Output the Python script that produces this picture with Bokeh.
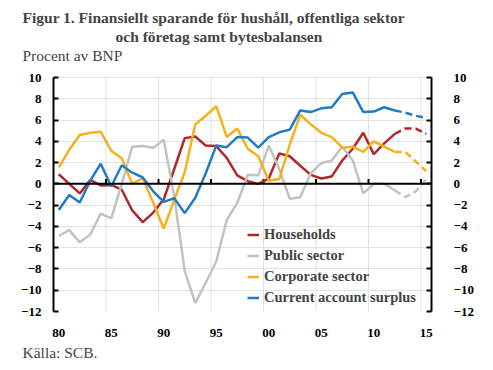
from bokeh.plotting import figure
from bokeh.models import (ColumnDataSource, Range1d, LinearAxis, FixedTicker, Title, Span,
                          Legend, LegendItem)
from bokeh.embed import file_html
from bokeh.resources import INLINE

years = list(range(1980, 2016))
households = [0.9, 0.0, -0.9, 0.35, -0.15, -0.1, -0.55, -2.5, -3.6, -2.7,
              -1.45, 1.4, 4.3, 4.45, 3.6, 3.55, 2.45, 0.8, 0.25, 0.0,
              0.5, 2.85, 2.6, 1.7, 0.85, 0.5, 0.7, 2.2, 3.3, 4.8,
              2.8, 3.8, 4.7, 5.2, 5.2, 4.7]
public = [-4.9, -4.35, -5.5, -4.75, -2.8, -3.25, 0.0, 3.5, 3.55, 3.4,
          4.15, -1.2, -8.2, -11.2, -9.3, -7.3, -3.4, -1.8, 0.85, 0.8,
          3.6, 1.4, -1.4, -1.25, 1.0, 1.95, 2.2, 3.5, 2.2, -0.9,
          0.0, 0.0, -0.6, -1.25, -0.7, 0.4]
corporate = [1.55, 3.2, 4.6, 4.8, 4.9, 3.1, 2.4, 0.0, 0.55, -1.8,
             -4.2, -1.5, 1.1, 5.6, 6.4, 7.3, 4.4, 5.2, 3.3, 2.6,
             0.3, 0.45, 3.7, 6.5, 5.6, 4.8, 4.4, 3.4, 3.5, 3.0,
             4.0, 3.5, 3.0, 3.0, 2.1, 1.2]
current_account = [-2.45, -1.05, -1.75, 0.3, 1.9, -0.25, 1.75, 1.05, 0.6, -0.7,
                   -1.7, -1.35, -2.75, -1.3, 1.0, 3.6, 3.45, 4.4, 4.35, 3.4,
                   4.4, 4.85, 5.1, 6.9, 6.75, 7.1, 7.2, 8.45, 8.6, 6.75,
                   6.8, 7.2, 6.9, 6.7, 6.4, 6.2]
forecast_start = 2012

series_names = ["Households", "Public sector", "Corporate sector", "Current account surplus"]
series_values = [households, public, corporate, current_account]
series_colors = ["#b0282a", "#c2c2c2", "#f5b11c", "#1f7bc4"]

tick_years = [1980, 1985, 1990, 1995, 2000, 2005, 2010, 2015]
tick_labels = ["80", "85", "90", "95", "00", "05", "10", "15"]
y_ticks = list(range(-12, 11, 2))
y_min, y_max = -12, 10

FONT = "Liberation Serif"

# the plotted area is 234 px high; 14 extra empty pixels sit above the top tick
plot_h = 234
pad_px = 14
top_pad = pad_px * (y_max - y_min) / plot_h

p = figure(width=493, height=370, frame_width=378, frame_height=plot_h + pad_px,
           x_range=Range1d(1979.5, 2015.5), y_range=Range1d(y_min, y_max + top_pad),
           output_backend="svg", toolbar_location=None,
           min_border_left=53, min_border_right=62, min_border_top=63, min_border_bottom=59)
p.outline_line_color = None
p.background_fill_color = "white"
p.border_fill_color = "white"

boundaries = [t - 0.5 for t in tick_years[1:]]
p.xgrid.visible = False
p.segment(x0=boundaries, x1=boundaries, y0=[y_min] * len(boundaries), y1=[y_max] * len(boundaries),
          line_color="#e2e2e2", line_width=1, level="underlay")
p.ygrid.ticker = FixedTicker(ticks=y_ticks)
p.ygrid.grid_line_color = "#e2e2e2"

# bottom labels axis
xa = p.xaxis[0]
xa.ticker = FixedTicker(ticks=tick_years)
xa.major_label_overrides = {t: l for t, l in zip(tick_years, tick_labels)}
xa.axis_line_color = None
xa.major_tick_line_color = None
xa.minor_tick_line_color = None
xa.major_label_standoff = 11
xa.major_label_text_font = FONT
xa.major_label_text_font_style = "bold"
xa.major_label_text_font_size = "13px"
xa.major_label_text_color = "black"

# zero line with small upward ticks at the category boundaries
p.add_layout(Span(location=0, dimension="width", line_color="black", line_width=2))
p.segment(x0=boundaries, x1=boundaries, y0=[0] * len(boundaries), y1=[0.45] * len(boundaries),
          line_color="black", line_width=2)

def style_y(ax):
    ax.ticker = FixedTicker(ticks=y_ticks)
    ax.bounds = (y_min, y_max)
    ax.major_tick_in = 5
    ax.major_tick_out = 0
    ax.minor_tick_line_color = None
    ax.axis_line_width = 2
    ax.axis_line_color = "black"
    ax.major_tick_line_width = 2
    ax.major_tick_line_color = "black"
    ax.major_label_text_font = FONT
    ax.major_label_text_font_style = "bold"
    ax.major_label_text_font_size = "13px"
    ax.major_label_text_color = "black"

ya = p.yaxis[0]
style_y(ya)
ya.major_label_standoff = 12
yr = LinearAxis()
style_y(yr)
yr.major_label_standoff = 22
yr.major_label_text_align = "right"
p.add_layout(yr, "right")

items = []
for name, vals, col in zip(series_names, series_values, series_colors):
    hist = [(y, v) for y, v in zip(years, vals) if y <= forecast_start]
    fc = [(y, v) for y, v in zip(years, vals) if y >= forecast_start]
    src_h = ColumnDataSource(dict(x=[a for a, _ in hist], y=[b for _, b in hist]))
    src_f = ColumnDataSource(dict(x=[a for a, _ in fc], y=[b for _, b in fc]))
    r = p.line("x", "y", source=src_h, line_color=col, line_width=2.5)
    p.line("x", "y", source=src_f, line_color=col, line_width=2.5, line_dash="7 4")
    items.append(LegendItem(label=name, renderers=[r]))

legend = Legend(items=items, location=(194, 3), background_fill_alpha=0, border_line_color=None,
                label_text_font=FONT, label_text_font_style="bold", label_text_font_size="14.5px",
                glyph_width=12, glyph_height=21, label_height=21, spacing=0, padding=0, margin=0,
                label_standoff=5)
p.add_layout(legend)

# titles: added ones stack outward from the frame, the figure title is outermost
p.add_layout(Title(text="Procent av BNP", text_font=FONT, text_font_size="15.5px",
                   text_font_style="normal", align="left", offset=-31, standoff=0), "above")
p.add_layout(Title(text="och företag samt bytesbalansen", text_font=FONT, text_font_size="15.5px",
                   text_font_style="bold", align="left", offset=62, standoff=0), "above")
p.title.text = "Figur 1. Finansiellt sparande för hushåll, offentliga sektor"
p.title.text_font = FONT
p.title.text_font_size = "15.5px"
p.title.text_font_style = "bold"
p.title.align = "left"
p.title.offset = -31
p.title.standoff = 0
p.add_layout(Title(text="Källa: SCB.", text_font=FONT, text_font_size="15.5px",
                   text_font_style="normal", align="left", offset=-31, standoff=4), "below")

open("out.html", "w").write(file_html(p, INLINE))
